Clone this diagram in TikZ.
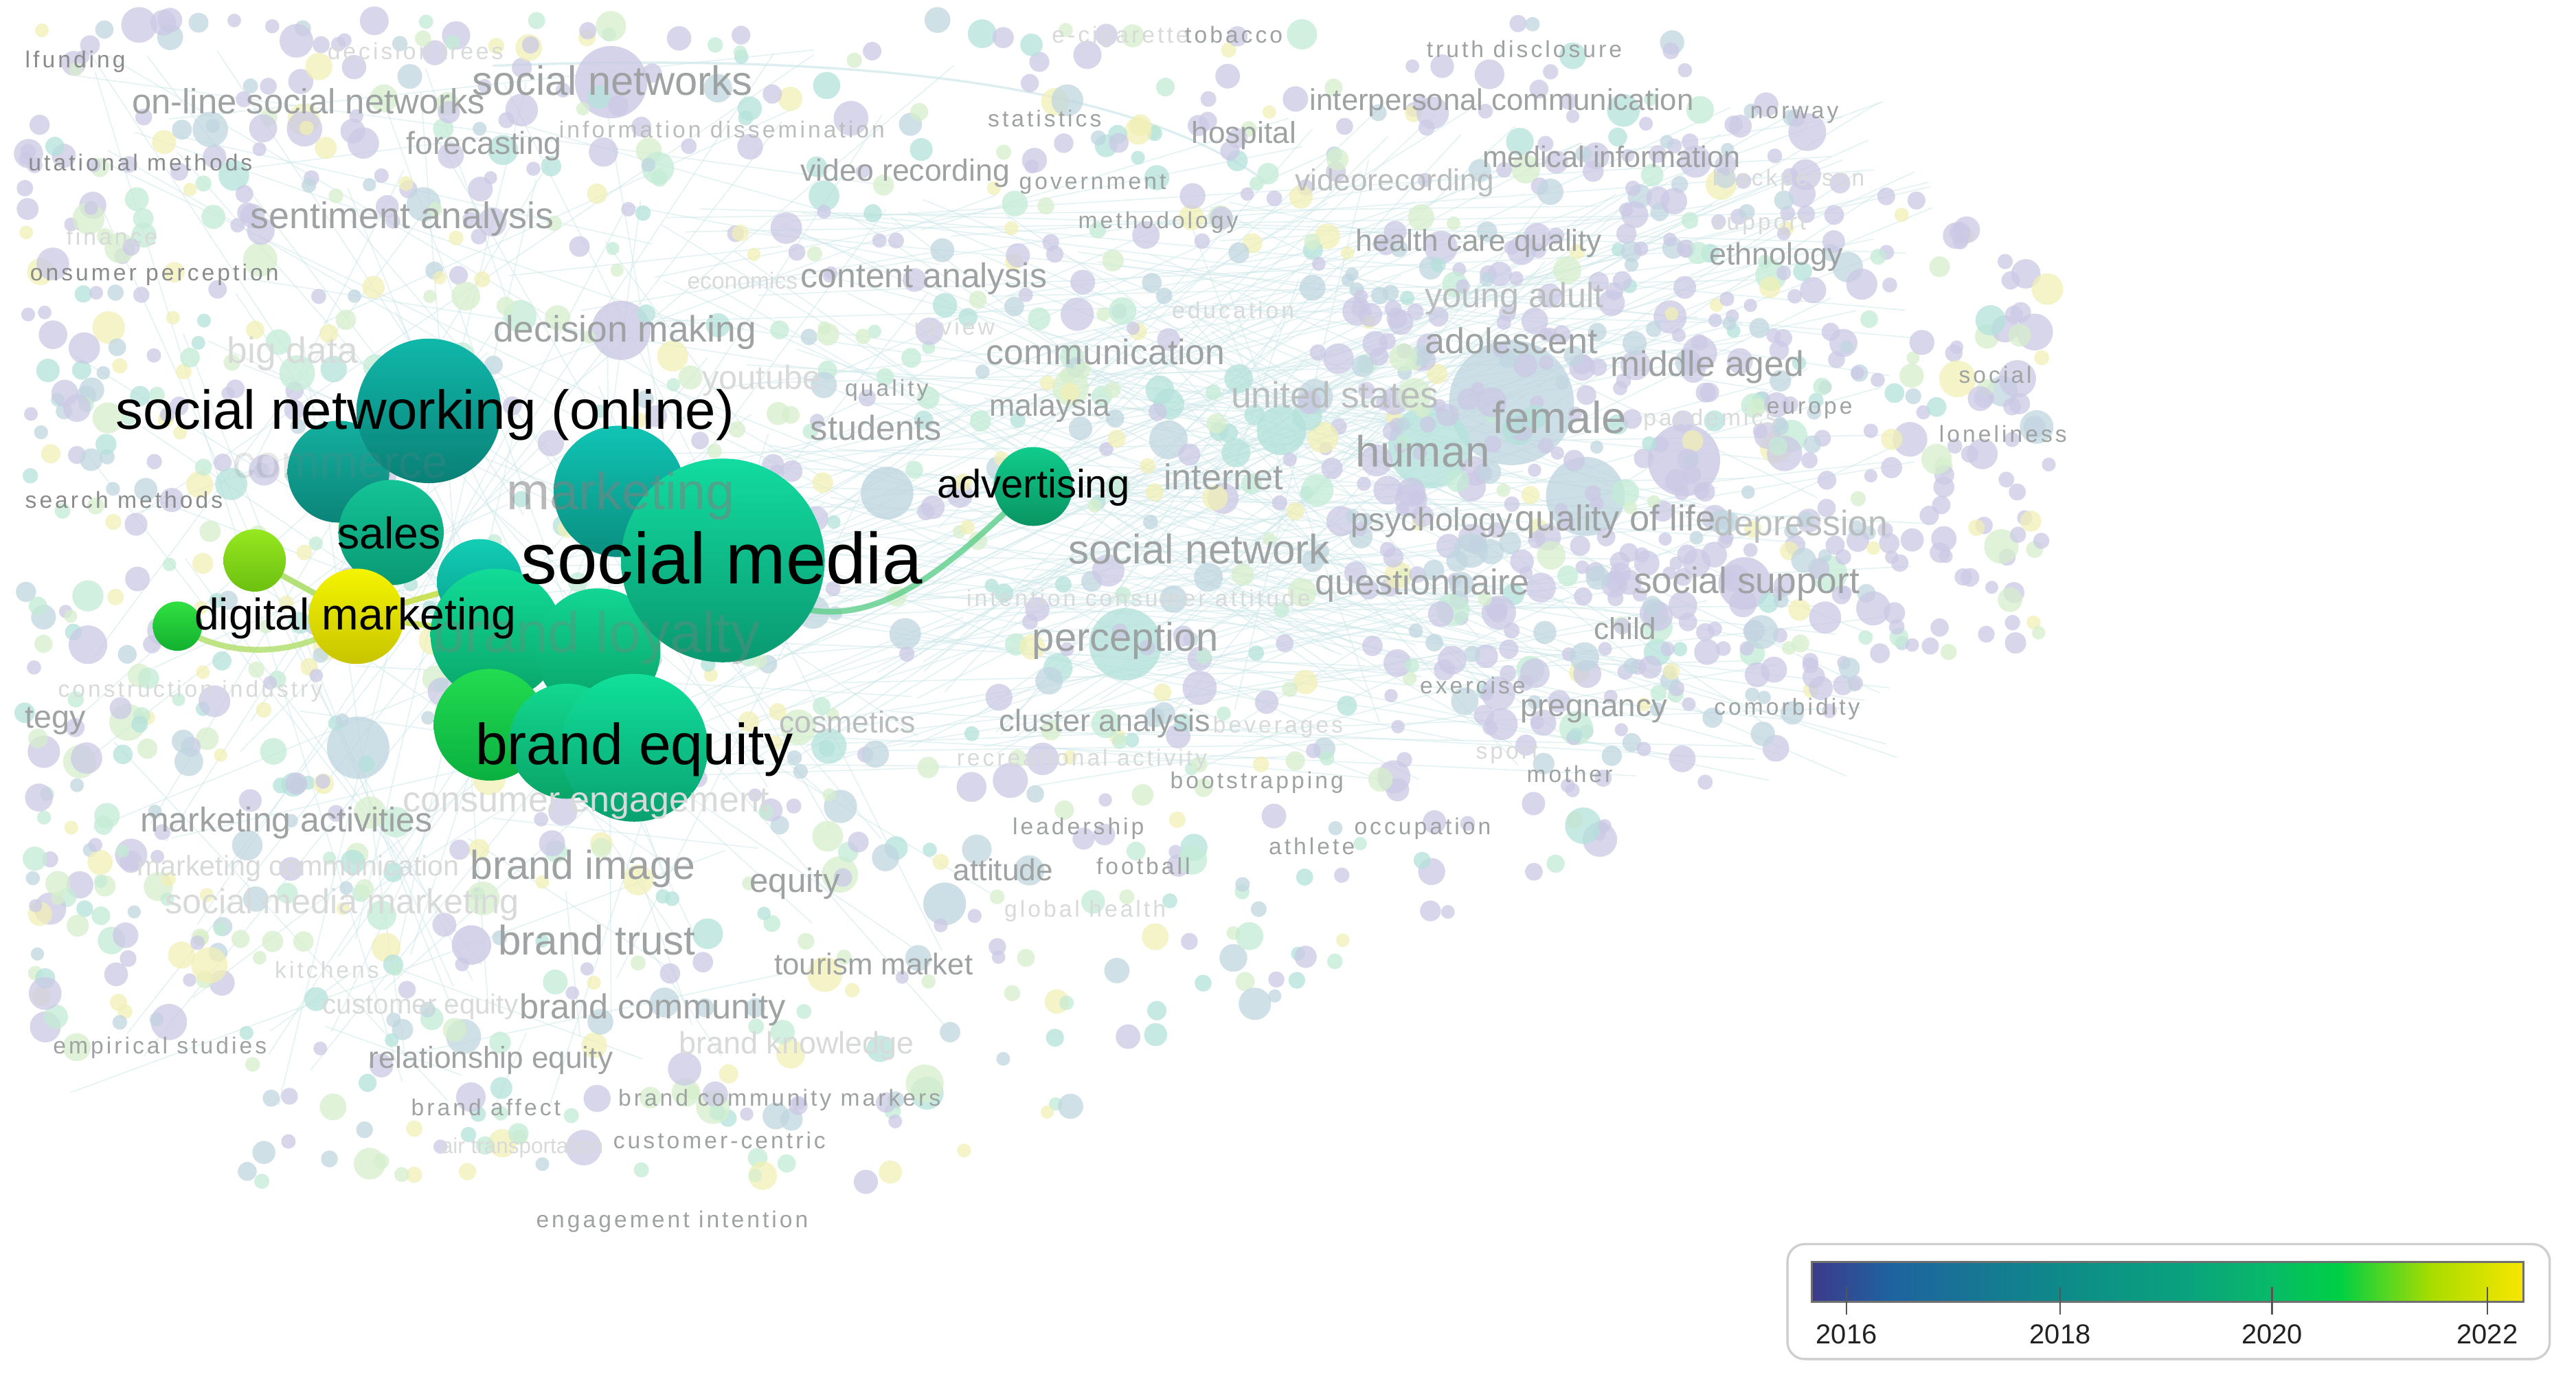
\documentclass[tikz,border=0pt]{standalone}
\usepackage{fontspec}
\setmainfont{Liberation Sans}
\newfontfamily\spacedfont[LetterSpace=12]{Liberation Sans}
\pgfdeclarelayer{back}
\pgfdeclarelayer{edgel}
\pgfdeclarelayer{front}
\pgfsetlayers{back,edgel,main,front}
\definecolor{bgc0}{HTML}{CBC9E5}
\definecolor{bgc1}{HTML}{B5E2DB}
\definecolor{bgc2}{HTML}{C4ECD6}
\definecolor{bgc3}{HTML}{F2F0B6}
\definecolor{bgc4}{HTML}{C0D6E0}
\definecolor{bgc5}{HTML}{D6EFCD}
\definecolor{gA}{HTML}{8A8C8C}
\definecolor{gB}{HTML}{9EA2A2}
\definecolor{gC}{HTML}{BABDBD}
\definecolor{gD}{HTML}{D8DADA}
\definecolor{fedge}{HTML}{CFE8EA}
\newcommand\hx[1]{\definecolor{h#1}{HTML}{#1}}
\hx{14B0A0}\hx{0B8478}\hx{10B8AA}\hx{0A8076}\hx{14C496}\hx{0A9874}
\hx{10C4B4}\hx{0A8E80}\hx{12CDB4}\hx{0AA090}\hx{12DC98}\hx{09A468}
\hx{12D694}\hx{09A066}\hx{12DCA0}\hx{0A9870}\hx{22DC50}\hx{0AB040}
\hx{12D890}\hx{0AA468}\hx{10E09A}\hx{0AA070}\hx{F4F400}\hx{C8C400}
\hx{96E820}\hx{6CC010}\hx{30E040}\hx{12B030}\hx{10CC8C}\hx{0A9462}
\hx{66D090}\hx{B4E070}\hx{A8DC60}\hx{C4DC40}\hx{CFCFCF}\hx{3D3A8A}
\hx{1F62A0}\hx{0E8A88}\hx{0AA27E}\hx{08BA68}\hx{00D044}\hx{A8DC00}
\hx{F8E600}\hx{707070}\hx{555555}\hx{222222}
\newcounter{labc}
\newcommand\lab[5]{\stepcounter{labc}\node[lab,text=#4,font=\fontsize{#3}{#3}\selectfont] (L\arabic{labc}) at (#1,#2) {#5};}
\newcommand\slab[4]{\stepcounter{labc}\node[lab,text=#3,font=\spacedfont\fontsize{8}{8}\selectfont] (L\arabic{labc}) at (#1,#2) {#4};}
\tikzset{
  lab/.style={anchor=base west,inner sep=0pt},
  mlab/.style={anchor=base west,inner sep=0pt,text=black},
  mc/.style={circle,inner sep=0pt,minimum size=#1*0.04cm},
  faintedge/.style={draw=fedge,line width=0.35pt,opacity=0.6},
  dmedge/.style={line width=2pt,draw=#1,opacity=0.85},
}
\begin{document}
\begin{tikzpicture}[x=0.02cm,y=-0.02cm]
\useasboundingbox (0,0) rectangle (1568,843);
\begin{pgfonlayer}{back}
\fill[white] (0,0) rectangle (1568,843);
\pgfmathsetseed{4242}
% faint web of links
\foreach \i in {1,...,220}{
  \pgfmathsetmacro\ax{380+rnd*380}\pgfmathsetmacro\ay{120+rnd*360}
  \pgfmathsetmacro\bx{780+rnd*400}\pgfmathsetmacro\by{60+rnd*420}
  \draw[faintedge] (\ax,\ay) -- (\bx,\by);
}
\foreach \i in {1,...,110}{
  \pgfmathsetmacro\ax{40+rnd*360}\pgfmathsetmacro\ay{30+rnd*650}
  \pgfmathsetmacro\bx{200+rnd*420}\pgfmathsetmacro\by{30+rnd*650}
  \draw[faintedge] (\ax,\ay) -- (\bx,\by);
}
\draw[fedge,line width=0.8pt,opacity=0.7] (300,40) .. controls (560,30) and (700,60) .. (770,110);
% large pale items
\fill[bgc4,opacity=0.8] (920,245) circle (38);
\fill[bgc1,opacity=0.8] (870,272) circle (25);
\fill[bgc0,opacity=0.8] (1025,280) circle (22);
\fill[bgc4,opacity=0.8] (965,302) circle (24);
\fill[bgc0,opacity=0.8] (372,50) circle (22);
\fill[bgc1,opacity=0.8] (685,392) circle (22);
\fill[bgc4,opacity=0.8] (218,455) circle (19);
\fill[bgc0,opacity=0.8] (1062,355) circle (16);
\fill[bgc1,opacity=0.8] (780,262) circle (15);
\fill[bgc4,opacity=0.8] (575,550) circle (13);
\fill[bgc0,opacity=0.8] (287,575) circle (12);
\fill[bgc0,opacity=0.8] (378,201) circle (18);
\fill[bgc4,opacity=0.8] (540,300) circle (16);
% random pale items
\foreach \i in {1,...,1350}{
  \pgfmathsetmacro\px{15+1235*pow(rnd,1.2)}
  \pgfmathsetmacro\ylo{\px>1000 ? 15+(\px-1000)*0.6 : 12}
  \pgfmathsetmacro\yhi{\px<150 ? 640 : (\px<560 ? 720 : (\px<1150 ? 720-(\px-560)*0.5 : 400))}
  \pgfmathsetmacro\py{\ylo+rnd*(\yhi-\ylo)}
  \pgfmathsetmacro\rr{4+8*rnd*rnd}
  \pgfmathsetmacro\bias{\px>820 ? 0.55 : (\py<180 ? 0.35 : 0.1)}
  \pgfmathtruncatemacro\cc{rnd<\bias ? 0 : floor(rnd*5.999)}
  \fill[bgc\cc,opacity=0.75] (\px,\py) circle (\rr);
}
\foreach \i in {1,...,260}{
  \pgfmathsetmacro\aa{rnd*360}
  \pgfmathsetmacro\dd{sqrt(rnd)}
  \pgfmathsetmacro\px{980+190*\dd*cos(\aa)}
  \pgfmathsetmacro\py{270+190*\dd*sin(\aa)}
  \pgfmathsetmacro\rr{4+7*rnd*rnd}
  \pgfmathtruncatemacro\cc{rnd<0.5 ? 0 : (rnd<0.5 ? 4 : floor(rnd*5.999))}
  \fill[bgc\cc,opacity=0.75] (\px,\py) circle (\rr);
}
\end{pgfonlayer}

% highlighted items
\node[mc=31,top color=h14B0A0,bottom color=h0B8478] (com) at (206,287) {};
\node[mc=44,top color=h10B8AA,bottom color=h0A8076] (snw) at (261,250) {};
\node[mc=32,top color=h14C496,bottom color=h0A9874] (sal) at (238,324) {};
\node[mc=40,top color=h10C4B4,bottom color=h0A8E80] (mkt) at (377,299) {};
\node[mc=26,top color=h12CDB4,bottom color=h0AA090] (tsm) at (292,354) {};
\node[mc=40,top color=h12DC98,bottom color=h09A468] (blo) at (302,386) {};
\node[mc=38,top color=h12D694,bottom color=h09A066] (bl2) at (364,396) {};
\node[mc=62,top color=h12DCA0,bottom color=h0A9870] (smd) at (440,341) {};
\node[mc=34,top color=h22DC50,bottom color=h0AB040] (bgr) at (298,441) {};
\node[mc=35,top color=h12D890,bottom color=h0AA468] (be2) at (345,451) {};
\node[mc=45,top color=h10E09A,bottom color=h0AA070] (beq) at (386,455) {};
\node[mc=29,top color=hF4F400,bottom color=hC8C400] (dmy) at (217,375) {};
\node[mc=19,top color=h96E820,bottom color=h6CC010] (lgr) at (155,341) {};
\node[mc=15,top color=h30E040,bottom color=h12B030] (sgr) at (108,381) {};
\node[mc=24,top color=h10CC8C,bottom color=h0A9462] (adv) at (629,296) {};

\begin{pgfonlayer}{edgel}
\draw[dmedge=h66D090] (smd.center) .. controls (515,415) and (580,340) .. (adv.center);
\draw[dmedge=hB4E070] (sgr.center) .. controls (140,402) and (185,400) .. (dmy.center);
\draw[dmedge=hA8DC60] (lgr.center) -- (dmy.center);
\draw[dmedge=hC4DC40] (dmy.center) -- (tsm.center);
\draw[dmedge=hC4DC40] (dmy.center) -- (blo.center);
\end{pgfonlayer}

\begin{pgfonlayer}{front}
% regular faded labels
\lab{287}{58}{14.2}{gB}{social networks}
\lab{80}{69}{12.1}{gB}{on-line social networks}
\lab{247}{94}{11}{gB}{forecasting}
\lab{152}{139}{12.8}{gB}{sentiment analysis}
\lab{487}{110}{10.6}{gB}{video recording}
\lab{487}{175}{11.9}{gB}{content analysis}
\lab{300}{208}{12.7}{gB}{decision making}
\lab{138}{221}{12.7}{gD}{big data}
\lab{427}{237}{11.6}{gD}{youtube}
\lab{600}{222}{12.3}{gB}{communication}
\lab{493}{268}{12}{gB}{students}
\lab{602}{253}{10.6}{gB}{malaysia}
\lab{725}{87}{10.5}{gB}{hospital}
\lab{797}{67}{10.4}{gB}{interpersonal communication}
\lab{902}{102}{10.3}{gB}{medical information}
\lab{788}{116}{10.5}{gC}{videorecording}
\lab{825}{153}{10.5}{gB}{health care quality}
\lab{1040}{161}{10.7}{gB}{ethnology}
\lab{867}{187}{12}{gC}{young adult}
\lab{867}{215}{12.4}{gB}{adolescent}
\lab{980}{229}{12.3}{gB}{middle aged}
\lab{749}{248}{12.7}{gC}{united states}
\lab{825}{284}{15.2}{gB}{human}
\lab{908}{263.5}{15.5}{gB}{female}
\lab{708}{298}{12.4}{gB}{internet}
\lab{822}{323}{11.2}{gB}{psychology}
\lab{922}{323}{12.5}{gB}{quality of life}
\lab{1043}{326}{12.3}{gC}{depression}
\lab{650}{343}{14.3}{gB}{social network}
\lab{800}{362}{12.4}{gB}{questionnaire}
\lab{994}{361}{12.7}{gB}{social support}
\lab{628}{396}{13.8}{gB}{perception}
\lab{970}{389}{10.5}{gB}{child}
\lab{15}{443}{11.1}{gB}{tegy}
\lab{925}{436}{10.9}{gB}{pregnancy}
\lab{474}{446}{10.6}{gC}{cosmetics}
\lab{608}{445}{10.7}{gB}{cluster analysis}
\lab{245}{494}{12.4}{gD}{consumer engagement}
\lab{85}{506}{11.9}{gB}{marketing activities}
\lab{83}{533}{9.8}{gD}{marketing communication}
\lab{286}{535}{14}{gB}{brand image}
\lab{456}{543}{11.7}{gB}{equity}
\lab{580}{536}{10.5}{gB}{attitude}
\lab{100}{556}{12}{gD}{social media marketing}
\lab{303}{581}{14.3}{gB}{brand trust}
\lab{471}{593}{10.4}{gB}{tourism market}
\lab{196}{617}{9.6}{gD}{customer equity}
\lab{316}{620}{12}{gB}{brand community}
\lab{413}{641}{10.7}{gD}{brand knowledge}
\lab{224}{650}{10.5}{gB}{relationship equity}
\lab{418}{176}{8}{gD}{economics}
\lab{268}{702}{7.5}{gD}{air transportation}
% small spaced labels
\slab{15}{41}{gA}{lfunding}
\slab{199}{36}{gD}{decision trees}
\slab{340}{84}{gC}{information dissemination}
\slab{17}{104}{gA}{utational methods}
\slab{40}{149}{gD}{finance}
\slab{18}{171}{gA}{onsumer perception}
\slab{15}{309}{gA}{search methods}
\slab{601}{77}{gB}{statistics}
\slab{640}{26}{gD}{e-cigarette}
\slab{721}{26}{gB}{tobacco}
\slab{620}{115}{gB}{government}
\slab{656}{139}{gB}{methodology}
\slab{868}{35}{gB}{truth disclosure}
\slab{1065}{72}{gB}{norway}
\slab{1042}{113}{gD}{blackperson}
\slab{1042}{140}{gD}{support}
\slab{556}{204}{gD}{review}
\slab{514}{241}{gB}{quality}
\slab{713}{194}{gD}{education}
\slab{1075}{252}{gB}{europe}
\slab{1000}{259}{gD}{pandemics}
\slab{1192}{233}{gB}{social}
\slab{1180}{269}{gB}{loneliness}
\slab{588}{369}{gD}{intention consumer attitude}
\slab{35}{424}{gD}{construction industry}
\slab{864}{422}{gB}{exercise}
\slab{1043}{435}{gB}{comorbidity}
\slab{738}{446}{gD}{beverages}
\slab{582}{466}{gD}{recreational activity}
\slab{898}{462}{gD}{sport}
\slab{929}{476}{gB}{mother}
\slab{712}{480}{gB}{bootstrapping}
\slab{616}{508}{gB}{leadership}
\slab{824}{508}{gB}{occupation}
\slab{772}{520}{gB}{athlete}
\slab{667}{532}{gB}{football}
\slab{611}{558}{gD}{global health}
\slab{167}{595}{gD}{kitchens}
\slab{32}{641}{gB}{empirical studies}
\slab{376}{673}{gB}{brand community markers}
\slab{250}{679}{gB}{brand affect}
\slab{373}{699}{gB}{customer-centric}
\slab{326}{747}{gB}{engagement intention}
% faded labels over highlighted items
\node[lab,text=gray,opacity=0.18,font=\fontsize{16}{16}\selectfont] (Lcom) at (141,291) {commerce};
\node[lab,text=gray,opacity=0.55,font=\fontsize{18}{18}\selectfont] (Lmkt) at (308,310) {marketing};
\node[lab,text=gray,opacity=0.35,font=\fontsize{20}{20}\selectfont] (Lblo) at (263,397) {brand loyalty};
% highlighted labels
\node[mlab,font=\fontsize{19}{19}\selectfont] (Tsnw) at (70,261) {social networking (online)};
\node[mlab,font=\fontsize{15.3}{15.3}\selectfont] (Tsal) at (205,334) {sales};
\node[mlab,font=\fontsize{25}{25}\selectfont] (Tsmd) at (317,355) {social media};
\node[mlab,font=\fontsize{15.3}{15.3}\selectfont] (Tdm) at (118,383) {digital marketing};
\node[mlab,font=\fontsize{13.8}{13.8}\selectfont] (Tadv) at (570,303) {advertising};
\node[mlab,font=\fontsize{20}{20}\selectfont] (Tbeq) at (289,465) {brand equity};
% legend
\fill[white] (1088,757) rectangle (1552,827);
\draw[draw=hCFCFCF,line width=0.8pt,rounded corners=6pt] (1088,757) rectangle (1552,827);
\shade[left color=h3D3A8A,right color=h1F62A0] (1103,768) rectangle (1150,792);
\shade[left color=h1F62A0,right color=h0E8A88] (1149.5,768) rectangle (1254,792);
\shade[left color=h0E8A88,right color=h0AA27E] (1253.5,768) rectangle (1330,792);
\shade[left color=h0AA27E,right color=h08BA68] (1329.5,768) rectangle (1383,792);
\shade[left color=h08BA68,right color=h00D044] (1382.5,768) rectangle (1425,792);
\shade[left color=h00D044,right color=hA8DC00] (1424.5,768) rectangle (1480,792);
\shade[left color=hA8DC00,right color=hF8E600] (1479.5,768) rectangle (1536,792);
\draw[draw=h707070,line width=0.7pt] (1103,768) rectangle (1536,792);
\foreach \tx/\yr in {1124/2016,1254/2018,1383/2020,1514/2022}{
  \draw[draw=h555555,line width=0.6pt] (\tx,783) -- (\tx,800);
  \node[font=\fontsize{9.5}{9.5}\selectfont,text=h222222,inner sep=0pt] (Y\yr) at (\tx,812) {\yr};
}
\end{pgfonlayer}
\end{tikzpicture}
\end{document}
